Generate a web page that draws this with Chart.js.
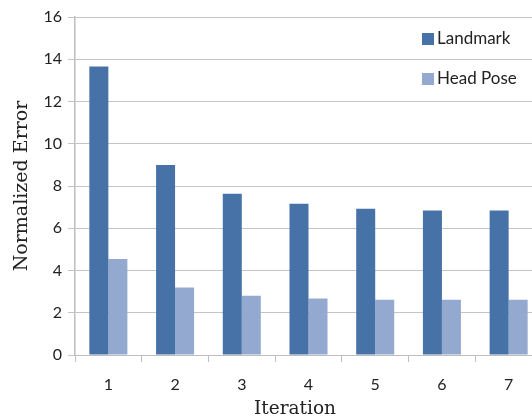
<!DOCTYPE html>
<html>
<head>
<meta charset="utf-8">
<script src="https://cdn.jsdelivr.net/npm/chart.js@4.4.1/dist/chart.umd.min.js"></script>
<style>
    html, body { margin: 0; padding: 0; overflow: hidden; background: #fff; }
    #wrap { position: absolute; left: 0; top: 0; width: 542px; height: 419px; }
</style>
</head>
<body>
<div id="wrap"><canvas id="grafico"></canvas></div>
<script>
const iteracoes = ["1", "2", "3", "4", "5", "6", "7"];
const landmark = [13.66, 9.0, 7.63, 7.16, 6.92, 6.84, 6.84];
const headPose = [4.54, 3.19, 2.80, 2.67, 2.62, 2.62, 2.62];
const yMin = 0;
const yMax = 16;
const yStep = 2;

const corLandmark = "#4672a8";
const corHeadPose = "#94a9d0";

// legenda e titulo do eixo x desenhados a mao, como no original
const extrasGrafico = {
    id: "extrasGrafico",
    afterDraw(chart) {
        const ctx = chart.ctx;
        ctx.save();
        ctx.font = "17px Lato";
        ctx.textBaseline = "middle";
        ctx.textAlign = "left";
        chart.data.datasets.forEach((ds, i) => {
            const y = 39 + i * 40;
            ctx.fillStyle = ds.backgroundColor;
            ctx.fillRect(422, y - 6, 12, 12);
            ctx.fillStyle = "#222";
            ctx.fillText(ds.label, 437, y);
        });
        ctx.font = "18.5px 'DejaVu Serif'";
        ctx.textAlign = "center";
        ctx.fillText("Iteration", 295, 409);
        ctx.restore();
    }
};

new Chart(document.getElementById("grafico"), {
    type: "bar",
    data: {
        labels: iteracoes,
        datasets: [
            { label: "Landmark", data: landmark, backgroundColor: corLandmark, borderWidth: 0 },
            { label: "Head Pose", data: headPose, backgroundColor: corHeadPose, borderWidth: 0 }
        ]
    },
    options: {
        responsive: true,
        maintainAspectRatio: false,
        animation: false,
        layout: { padding: { top: 17, bottom: 0, left: 0, right: 0 } },
        datasets: { bar: { categoryPercentage: 0.57, barPercentage: 1 } },
        plugins: {
            legend: { display: false },
            tooltip: { enabled: false }
        },
        scales: {
            x: {
                offset: true,
                grid: { display: true, drawOnChartArea: false, offset: true, tickLength: 7, color: "#bdbdbd" },
                border: { color: "#bdbdbd", width: 1 },
                ticks: { color: "#222", font: { family: "Lato", size: 16 }, padding: 13 },
                afterFit: s => { s.height = 64; }
            },
            y: {
                min: yMin,
                max: yMax,
                ticks: { stepSize: yStep, color: "#222", font: { family: "Lato", size: 16 }, padding: 6 },
                grid: { color: "#c4c4c4", tickLength: 7 },
                border: { color: "#bdbdbd", width: 1.5 },
                title: { display: true, text: "Normalized Error", color: "#222",
                         font: { family: "DejaVu Serif", size: 19, lineHeight: 1.2 },
                         padding: { top: 11, bottom: 0 } },
                afterFit: s => { s.width = 75; }
            }
        }
    },
    plugins: [extrasGrafico]
});
</script>
</body>
</html>
